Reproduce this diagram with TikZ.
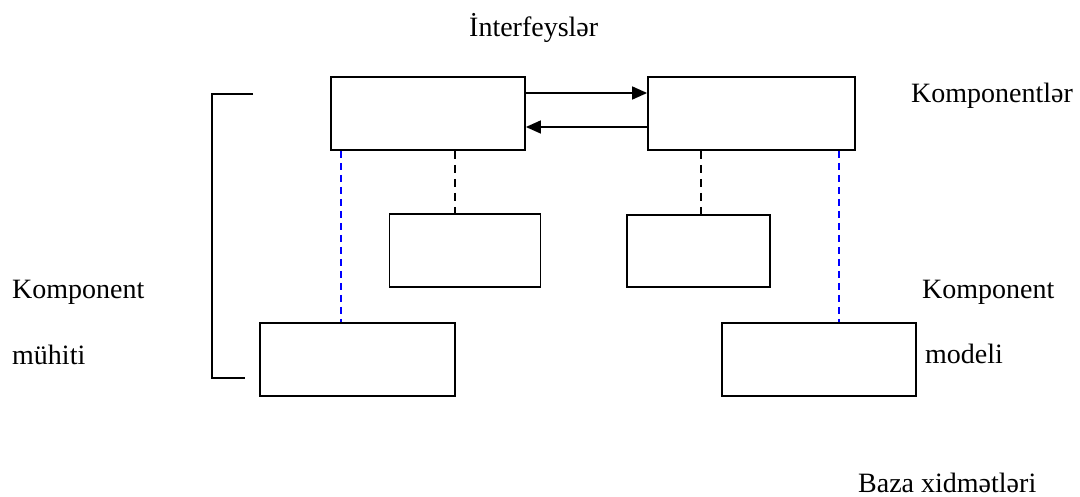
\documentclass[tikz,border=0pt]{standalone}
\usepackage{fontspec}
\setmainfont{Liberation Serif}
\usetikzlibrary{arrows.meta,calc}
\begin{document}
\begin{tikzpicture}[x=1pt,y=-1pt,
  blk/.style={draw,line width=1.8pt,rectangle,inner sep=0pt},
  lbl/.style={anchor=base west,inner sep=0pt,font=\fontsize{28}{30}\selectfont},
  bluedash/.style={draw=blue,line width=1.6pt,dash pattern=on 7pt off 5pt},
  blackdash/.style={draw=black,line width=1.6pt,dash pattern=on 8pt off 6pt},
  arr/.style={line width=1.6pt,-{Triangle[length=15pt,width=13pt]}}]
\useasboundingbox (0,0) rectangle (1080,497);
% boxes
\node[blk,minimum width=194pt,minimum height=73pt] (A) at (428,113.5) {};
\node[blk,minimum width=207pt,minimum height=73pt] (B) at (751.5,113.5) {};
\node[blk,minimum width=151pt,minimum height=73pt] (C) at (465,250.5) {};
\node[blk,minimum width=143pt,minimum height=72pt] (D) at (698.5,251) {};
\node[blk,minimum width=195pt,minimum height=73pt] (E) at (357.5,359.5) {};
\node[blk,minimum width=194pt,minimum height=73pt] (F) at (819,359.5) {};
% arrows
\draw[arr] ([yshift=20.5pt]A.east) -- ([yshift=20.5pt]B.west);
\draw[arr] ([yshift=-13.5pt]B.west) -- ([yshift=-13.5pt]A.east);
% dashed links
\draw[bluedash] ([xshift=11pt]A.south west) -- ([xshift=11pt]A.south west |- E.north);
\draw[blackdash] ([xshift=-10pt]C.north |- A.south) -- ([xshift=-10pt]C.north);
\draw[blackdash] ([xshift=2.5pt]D.north |- B.south) -- ([xshift=2.5pt]D.north);
\draw[bluedash] ([xshift=20pt]F.north |- B.south) -- ([xshift=20pt]F.north);
% bracket
\draw[line width=1.6pt] (253,94) -| (212,378) -- (245,378);
% labels
\node[lbl] (t1) at (469,37) {İnterfeyslər};
\node[lbl] (t2) at (911,103) {Komponentlər};
\node[lbl] (t3) at (12,299) {Komponent};
\node[lbl] (t4) at (12,365) {mühiti};
\node[lbl] (t5) at (922,299) {Komponent};
\node[lbl] (t6) at (925,363) {modeli};
\node[lbl] (t7) at (858,492) {Baza xidmətləri};
\end{tikzpicture}
\end{document}
